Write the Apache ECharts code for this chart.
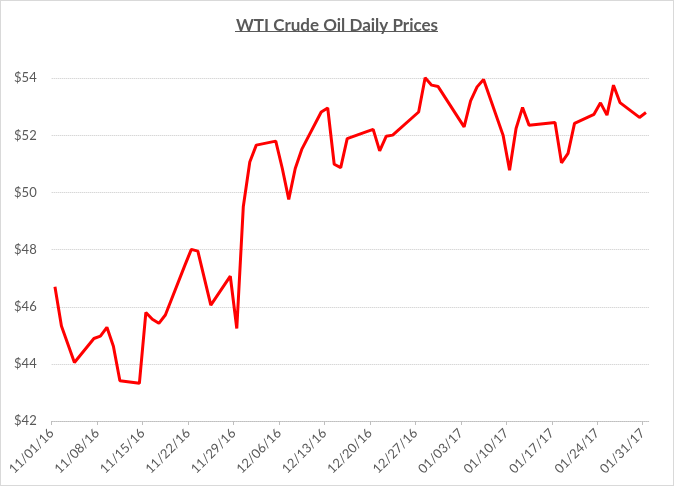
<!DOCTYPE html>
<html>
<head>
<meta charset="utf-8">
<script src="https://cdn.jsdelivr.net/npm/echarts@6/dist/echarts.min.js"></script>
<style>
html,body{margin:0;padding:0;background:#fff;}
#c{width:674px;height:486px;box-sizing:border-box;border:1px solid #d9d9d9;}
</style>
</head>
<body>
<div id="c"></div>
<script>
const startDate = '2016-11-01';
const dates = [
 '2016-11-01','2016-11-02','2016-11-03','2016-11-04','2016-11-07','2016-11-08','2016-11-09','2016-11-10','2016-11-11',
 '2016-11-14','2016-11-15','2016-11-16','2016-11-17','2016-11-18','2016-11-21','2016-11-22','2016-11-23','2016-11-25',
 '2016-11-28','2016-11-29','2016-11-30','2016-12-01','2016-12-02','2016-12-05','2016-12-06','2016-12-07','2016-12-08',
 '2016-12-09','2016-12-12','2016-12-13','2016-12-14','2016-12-15','2016-12-16','2016-12-19','2016-12-20','2016-12-21',
 '2016-12-22','2016-12-23','2016-12-27','2016-12-28','2016-12-29','2016-12-30','2017-01-03','2017-01-04','2017-01-05',
 '2017-01-06','2017-01-09','2017-01-10','2017-01-11','2017-01-12','2017-01-13','2017-01-17','2017-01-18','2017-01-19',
 '2017-01-20','2017-01-23','2017-01-24','2017-01-25','2017-01-26','2017-01-27','2017-01-30','2017-01-31'
];
const prices = [
 46.70,45.33,44.69,44.05,44.89,44.97,45.28,44.62,43.41,
 43.32,45.80,45.56,45.42,45.71,47.45,48.01,47.95,46.06,
 47.07,45.24,49.50,51.07,51.66,51.80,50.85,49.76,50.84,
 51.51,52.82,52.96,50.99,50.87,51.89,52.13,52.21,51.46,
 51.97,52.01,52.82,54.02,53.76,53.71,52.30,53.21,53.70,
 53.96,52.01,50.78,52.24,52.98,52.36,52.45,51.04,51.37,
 52.42,52.74,53.14,52.71,53.76,53.15,52.63,52.80
];
const tickLabels = ['11/01/16','11/08/16','11/15/16','11/22/16','11/29/16','12/06/16','12/13/16',
 '12/20/16','12/27/16','01/03/17','01/10/17','01/17/17','01/24/17','01/31/17'];
const yTicks = [42,44,46,48,50,52,54];

const DAY = 86400000;
const t0 = Date.parse(startDate + 'T00:00:00Z');
// Excel-style date axis: each day occupies a slot, points sit in the slot centre
const seriesData = dates.map((d,i)=>[(Date.parse(d+'T00:00:00Z')-t0)/DAY + 0.5, prices[i]]);
const nDays = (tickLabels.length-1)*7 + 1;

const gray = '#595959';
const font = 'Lato, "Open Sans", sans-serif';
const chart = echarts.init(document.getElementById('c'), null, {renderer:'canvas'});
chart.setOption({
  animation:false,
  backgroundColor:'#fff',
  title:{
    text:'WTI Crude Oil Daily Prices',
    left:'center', top:11,
    textStyle:{color:gray,fontFamily:font,fontWeight:'bold',fontSize:17}
  },
  graphic:[{
    type:'line', shape:{x1:234,y1:30.5,x2:437,y2:30.5},
    style:{stroke:gray,lineWidth:1}
  }],
  grid:{left:50.7,right:23.8,top:77.3,bottom:64},
  xAxis:{
    type:'value', min:0, max:nDays, interval:7,
    axisLine:{show:true,lineStyle:{color:'#bfbfbf',width:1,type:'dotted'}},
    axisTick:{show:true,length:4,lineStyle:{color:'#bfbfbf'}},
    splitLine:{show:false},
    axisLabel:{
      rotate:45, color:gray, fontFamily:font, fontSize:13, margin:10,
      showMaxLabel:false,
      formatter:(v)=>{ const k=Math.round(v/7); return (Math.abs(v-k*7)<1e-6 && tickLabels[k])?tickLabels[k]:''; }
    }
  },
  yAxis:{
    type:'value', min:yTicks[0], max:yTicks[yTicks.length-1], interval:2,
    axisLine:{show:false}, axisTick:{show:false},
    splitLine:{lineStyle:{color:'#c8c8c8',type:'dotted',width:1}},
    axisLabel:{color:gray,fontFamily:font,fontSize:13,margin:15,formatter:(v)=>'$'+v}
  },
  series:[{
    type:'line', data:seriesData, showSymbol:false, clip:false,
    lineStyle:{color:'#ff0000',width:3}, itemStyle:{color:'#ff0000'}
  }]
});
</script>
</body>
</html>
